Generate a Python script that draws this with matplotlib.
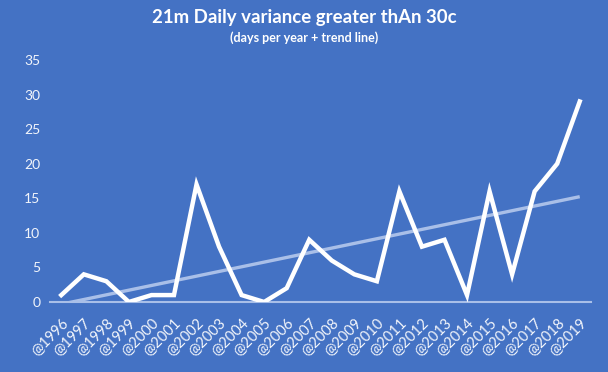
import matplotlib
matplotlib.use("Agg")
import matplotlib.pyplot as plt
import numpy as np

years = [1996, 1997, 1998, 1999, 2000, 2001, 2002, 2003, 2004, 2005, 2006, 2007,
         2008, 2009, 2010, 2011, 2012, 2013, 2014, 2015, 2016, 2017, 2018, 2019]
days = [1, 4, 3, 0, 1, 1, 17, 8, 1, 0, 2, 9, 6, 4, 3, 16, 8, 9, 1, 16, 4, 16, 20, 29]
labels = ["@%d" % y for y in years]
yticks = [0, 5, 10, 15, 20, 25, 30, 35]

bg = "#4472C4"
txt = "#F2F5FB"
plt.rcParams['font.family'] = ['Lato', 'DejaVu Sans']

fig = plt.figure(figsize=(6.08, 3.72), dpi=100, facecolor=bg)
ax = fig.add_axes([50/608, 1-302/372, (591-50)/608, (302-60)/372])
ax.set_facecolor(bg)

x = np.arange(len(years))
coef = np.polyfit(x, days, 1)
trend = np.polyval(coef, x)
ax.plot(x, trend, color="#A9BFE8", lw=2.4, solid_capstyle='butt', zorder=2)
ax.plot(x, days, color="white", lw=3.2, solid_joinstyle='miter', zorder=3)

ax.set_xlim(-0.5, len(years) - 0.5)
ax.set_ylim(0, 35)
ax.set_yticks(yticks)
ax.set_yticklabels([str(t) for t in yticks], color=txt, fontsize=10)
ax.set_xticks(x)
ax.set_xticklabels(labels, rotation=45, ha='right', va='top', rotation_mode='anchor',
                   color=txt, fontsize=10.5)
ax.tick_params(axis='both', length=0)
ax.tick_params(axis='y', pad=7)
ax.tick_params(axis='x', pad=10)
for s in ['top', 'right', 'left']:
    ax.spines[s].set_visible(False)
ax.spines['bottom'].set_color("#A9BFE8")
ax.spines['bottom'].set_linewidth(1.5)
ax.spines['bottom'].set_zorder(1)

fig.text(0.5, 1-18/372, "21m Daily variance greater thAn 30c", ha='center', va='center',
         color='white', fontsize=13.4, fontweight='bold')
fig.text(0.5, 1-38/372, "(days per year + trend line)", ha='center', va='center',
         color='white', fontsize=9, fontweight='bold')

fig.savefig("out.png", dpi=100, facecolor=bg)
